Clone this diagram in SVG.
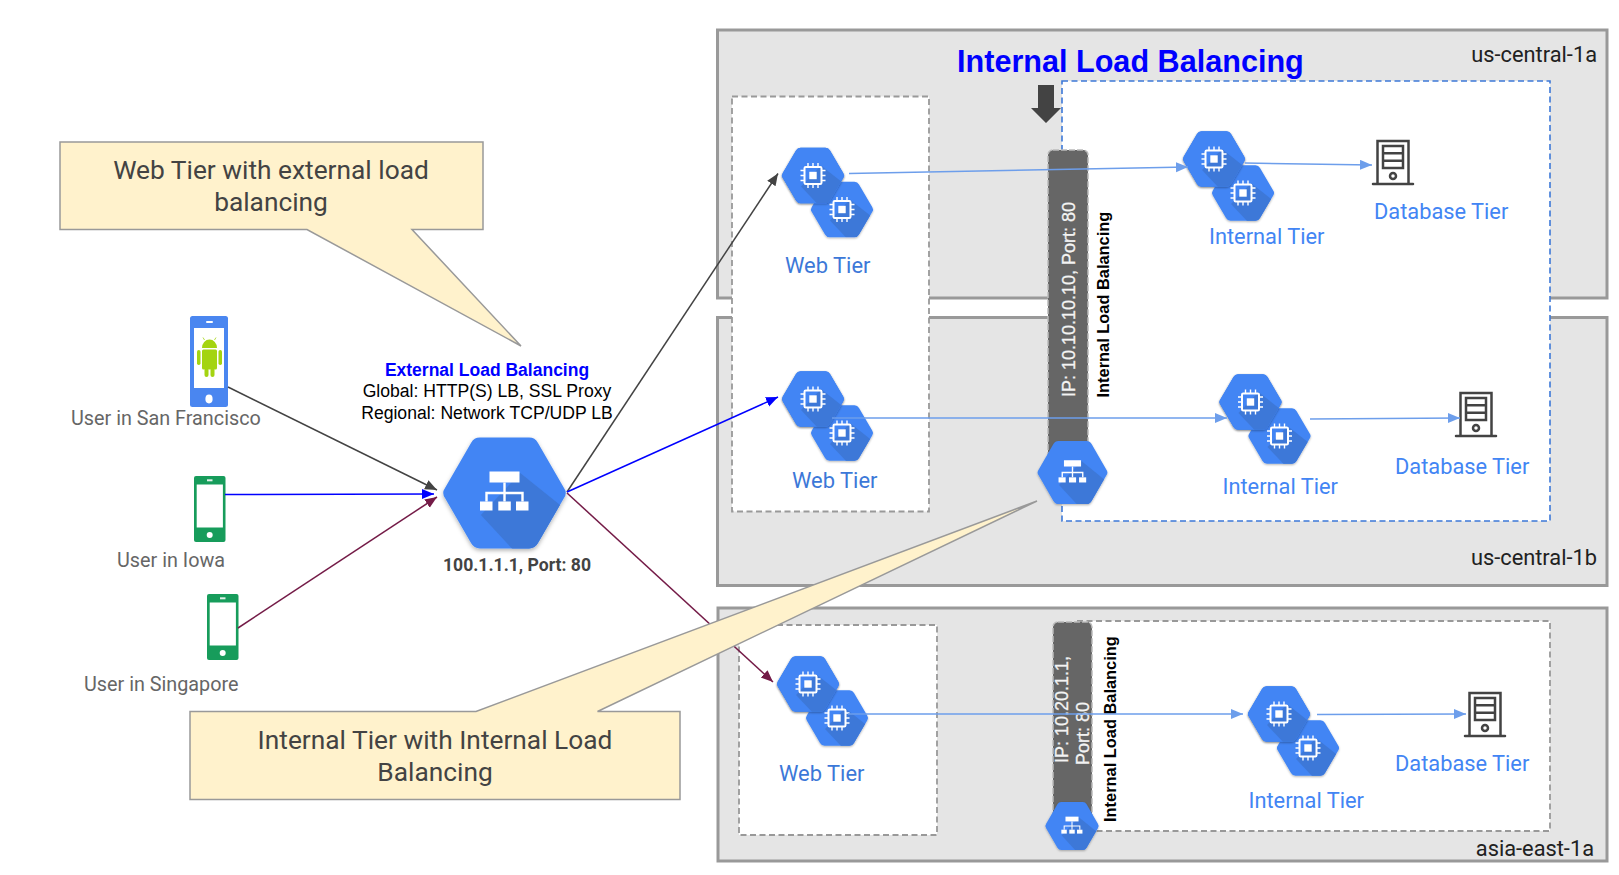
<svg xmlns="http://www.w3.org/2000/svg" width="1619" height="875" viewBox="0 0 1619 875">
<style>
text{font-family:Roboto,"Liberation Sans",sans-serif}
.zone{fill:#e5e5e5;stroke:#999;stroke-width:3}
.box{fill:#fff;stroke:#999;stroke-width:1.8;stroke-dasharray:6 3.5}
.bluebox{fill:#fff;stroke:#3c78d8;stroke-width:1.6;stroke-dasharray:6 3.5}
.bar{fill:#666;stroke:#bbb;stroke-width:1.5;stroke-dasharray:6 2}
.web{fill:#3c78d8;font-size:21.9px}
.tier{fill:#4285f4;font-size:21.8px}
.user{fill:#666;font-size:19.8px}
.region{fill:#212121;font-size:21.8px}
.call{fill:#fff2cc;stroke:#999;stroke-width:1.5;stroke-linejoin:miter}
.calltext{fill:#434343;font-size:26.3px;text-anchor:middle}
.ln{fill:none;stroke-width:1.5}
.dk{stroke:#434343}.bl{stroke:#0000ff}.pu{stroke:#741b47}.lb{stroke:#6d9eeb}
.wh{fill:#fff}
.lib{font-family:"Liberation Sans",Arial,sans-serif}
.bartext{fill:#f3f3f3;font-size:18px;stroke:#f3f3f3;stroke-width:.3}
.side{fill:#000;font-size:16.4px;font-weight:700}
</style>
<defs>
<filter id="sh" x="-20%" y="-20%" width="140%" height="140%"><feDropShadow dx="0" dy="1" stdDeviation="1" flood-color="#000" flood-opacity=".3"/></filter>
<path id="hexp" d="M-30.200-2.500L-17-25Q-15.500-27.700-12.500-27.700L12.500-27.700Q15.500-27.700 17-25L30.200-2.500Q32 0 30.200 2.500L17 25Q15.500 27.700 12.500 27.700L-12.500 27.700Q-15.500 27.700-17 25L-30.200 2.500Q-32 0-30.200-2.500Z"/>
<clipPath id="hc"><use href="#hexp"/></clipPath>
<g id="chip">
<rect x="-8.500" y="-8.500" width="17" height="17" rx="1.200" fill="none" stroke="#fff" stroke-width="2"/>
<rect x="-3.700" y="-3.700" width="7.400" height="7.400" fill="#fff"/>
<path d="M-5-12.500V-9M0-12.500V-9M5-12.500V-9M-5 9V12.500M0 9V12.500M5 9V12.500M-12.500-5H-9M-12.500 0H-9M-12.500 5H-9M9-5H12.500M9 0H12.500M9 5H12.500" stroke="#fff" stroke-width="1.400" fill="none"/>
</g>
<g id="hexbase" filter="url(#sh)">
<use href="#hexp" fill="#4285f4"/>
<polygon clip-path="url(#hc)" points="8,-10 32,9 32,28 4,28 -12,11" fill="#3e78d8"/>
</g>
<g id="compute"><use href="#hexbase"/><use href="#chip"/></g>
<g id="pair"><use href="#compute"/><use href="#compute" x="29" y="34"/><use href="#compute"/></g>
<g id="lbhex">
<use href="#hexbase" transform="scale(1.97 2)"/>
<rect class="wh" x="-15" y="-21.500" width="30" height="11"/>
<rect class="wh" x="-24.500" y="8.500" width="12.500" height="9"/><rect class="wh" x="-6.200" y="8.500" width="12.500" height="9"/><rect class="wh" x="11.500" y="8.500" width="12.500" height="9"/>
<path d="M0-10.500V8.500M-18 8.500V0H18V8.500" fill="none" stroke="#fff" stroke-width="2.400"/>
</g>
<g id="db" fill="none" stroke="#434343">
<path d="M-15.500 44V1H15.500V44" stroke-width="2.500"/>
<path d="M-20 44H20" stroke-width="2.500" stroke-linecap="round"/>
<rect x="-10" y="6" width="20" height="22" stroke-width="2.500"/>
<path d="M-10 13.300H10M-10 20.700H10" stroke-width="2.500"/>
<circle cx="0" cy="36" r="3" stroke-width="2.500"/>
</g>
<g id="greenphone">
<rect x="0" y="0" width="31.500" height="66" rx="2" fill="#179c5b"/>
<rect x="2.700" y="8.500" width="26.200" height="43" fill="#fff"/>
<rect x="13" y="3.300" width="5.500" height="2" fill="#e0f0e8"/>
<circle cx="15.700" cy="59" r="3" fill="#fff"/>
</g>
<marker id="mdk" markerUnits="userSpaceOnUse" markerWidth="13" markerHeight="11" refX="12" refY="5" orient="auto"><path d="M0 0L12 5L0 10Z" fill="#434343"/></marker>
<marker id="mbl" markerUnits="userSpaceOnUse" markerWidth="13" markerHeight="11" refX="12" refY="5" orient="auto"><path d="M0 0L12 5L0 10Z" fill="#0000ff"/></marker>
<marker id="mpu" markerUnits="userSpaceOnUse" markerWidth="13" markerHeight="11" refX="12" refY="5" orient="auto"><path d="M0 0L12 5L0 10Z" fill="#741b47"/></marker>
<marker id="mlb" markerUnits="userSpaceOnUse" markerWidth="13" markerHeight="11" refX="12" refY="5" orient="auto"><path d="M0 0L12 5L0 10Z" fill="#6d9eeb"/></marker>
</defs>
<rect width="1619" height="875" fill="#fff"/>
<g id="zones">
<rect class="zone" x="717.500" y="30" width="889.500" height="268"/>
<rect class="zone" x="717.500" y="317.500" width="889.500" height="268"/>
<rect class="zone" x="718" y="608" width="889" height="253"/>
<text class="region" x="1597" y="62" text-anchor="end">us-central-1a</text>
<text class="region" x="1597" y="565" text-anchor="end">us-central-1b</text>
<text class="region" x="1594" y="856" text-anchor="end">asia-east-1a</text>
</g>
<g id="tier-boxes">
<rect class="bluebox" x="1062" y="81" width="488" height="440"/>
<rect class="box" x="732" y="96.500" width="197" height="415"/>
<rect class="box" x="739" y="625" width="198" height="210"/>
<rect class="box" x="1077" y="621" width="473" height="210"/>
</g>
<g id="ilb-title">
<text class="lib" x="957" y="72" font-size="30.600" font-weight="700" fill="#0000ff">Internal Load Balancing</text>
<polygon points="1038,85 1054,85 1054,108 1061,108 1046,123 1031,108 1038,108" fill="#434343"/>
</g>
<g id="ilb-bar-a">
<rect class="bar" x="1048" y="150" width="40" height="320" rx="5"/>
<text class="lib bartext" transform="translate(1074.500 397) rotate(-90)">IP: 10.10.10.10, Port: 80</text>
<text class="lib side" transform="translate(1109 397.500) rotate(-90)">Internal Load Balancing</text>
</g>
<g id="ilb-bar-b">
<rect class="bar" x="1053" y="622" width="39" height="205" rx="5"/>
<text class="lib bartext" transform="translate(1068 763) rotate(-90)">IP: 10.20.1.1,</text>
<text class="lib bartext" transform="translate(1089 765) rotate(-90)">Port: 80</text>
<text class="lib side" transform="translate(1115.500 822) rotate(-90)">Internal Load Balancing</text>
</g>
<g id="web-a"><use href="#pair" x="813" y="175.500"/><text class="web" x="785" y="273">Web Tier</text></g>
<g id="web-b"><use href="#pair" x="813" y="399"/><text class="web" x="792" y="488">Web Tier</text></g>
<g id="web-c"><use href="#pair" x="808" y="684"/><text class="web" x="779" y="781">Web Tier</text></g>
<g id="internal-a"><use href="#pair" x="1214" y="159"/><text class="tier" x="1209" y="244">Internal Tier</text></g>
<g id="internal-b"><use href="#pair" x="1250.500" y="402"/><text class="tier" x="1222.500" y="494">Internal Tier</text></g>
<g id="internal-c"><use href="#pair" x="1279" y="714"/><text class="tier" x="1248.500" y="808">Internal Tier</text></g>
<g id="db-a"><use href="#db" x="1393" y="140"/><text class="tier" x="1374" y="219">Database Tier</text></g>
<g id="db-b"><use href="#db" x="1476" y="392"/><text class="tier" x="1395" y="474">Database Tier</text></g>
<g id="db-c"><use href="#db" x="1485" y="692"/><text class="tier" x="1395" y="771">Database Tier</text></g>
<g id="ilb-a"><use href="#lbhex" transform="translate(1072.500 472.500) scale(.57)"/></g>
<g id="ilb-b"><use href="#lbhex" transform="translate(1072 826) scale(.435)"/></g>
<g id="elb">
<use href="#lbhex" x="504.500" y="493"/>
<text x="517" y="571" font-size="17.600" font-weight="700" fill="#434343" text-anchor="middle">100.1.1.1, Port: 80</text>
<text class="lib" x="487" y="376" font-size="17.500" font-weight="700" fill="#0000ff" text-anchor="middle">External Load Balancing</text>
<text class="lib" x="487" y="397" font-size="17.600" fill="#000" text-anchor="middle">Global: HTTP(S) LB, SSL Proxy</text>
<text class="lib" x="487" y="419" font-size="17.600" fill="#000" text-anchor="middle">Regional: Network TCP/UDP LB</text>
</g>
<g id="user-sf">
<rect x="190" y="316" width="38" height="91" rx="2.500" fill="#4a86f0"/>
<rect x="194" y="328" width="30" height="60" fill="#fff"/>
<rect x="206" y="321" width="7" height="2" rx="1" fill="#fff"/>
<ellipse cx="209" cy="399" rx="3.600" ry="4.400" fill="#fff"/>
<g fill="#a4d411">
<path d="M202 348a7.500 8.500 0 0 1 15 0Z"/>
<rect x="202" y="349.500" width="15" height="20" rx="1.500"/>
<rect x="197" y="350" width="3.500" height="15" rx="1.700"/><rect x="218.500" y="350" width="3.500" height="15" rx="1.700"/>
<rect x="204.500" y="368" width="4" height="9" rx="2"/><rect x="210.500" y="368" width="4" height="9" rx="2"/>
<path d="M204.500 340L203 337.500M214.500 340L216 337.500" stroke="#a4d411" stroke-width=".8" fill="none"/>
</g>
<text class="user" x="71" y="425">User in San Francisco</text>
</g>
<g id="user-iowa"><use href="#greenphone" x="194" y="476"/><text class="user" x="117" y="567">User in Iowa</text></g>
<g id="user-singapore"><use href="#greenphone" x="207" y="594"/><text class="user" x="84" y="691">User in Singapore</text></g>
<g id="connectors">
<path class="ln dk" marker-end="url(#mdk)" d="M228 387L437 490"/>
<path class="ln bl" marker-end="url(#mbl)" d="M225 494.500L434 494"/>
<path class="ln pu" marker-end="url(#mpu)" d="M238 628L437 497"/>
<path class="ln dk" marker-end="url(#mdk)" d="M567 492L778 173.500"/>
<path class="ln bl" marker-end="url(#mbl)" d="M567 492L778 397"/>
<path class="ln pu" marker-end="url(#mpu)" d="M567 493L773 682"/>
<path class="ln lb" marker-end="url(#mlb)" d="M849 173.500L1188 167"/>
<path class="ln lb" marker-end="url(#mlb)" d="M1245 163L1372 165"/>
<path class="ln lb" marker-end="url(#mlb)" d="M832 418L1227 418"/>
<path class="ln lb" marker-end="url(#mlb)" d="M1310 419L1460 418"/>
<path class="ln lb" marker-end="url(#mlb)" d="M848 714L1243 714"/>
<path class="ln lb" marker-end="url(#mlb)" d="M1317 714.500L1466 714"/>
</g>
<g id="callout-web">
<path class="call" d="M60 142H483V229.500H412L521 346L307 229.500H60Z"/>
<text class="calltext" x="271" y="179">Web Tier with external load</text>
<text class="calltext" x="271" y="210.500">balancing</text>
</g>
<g id="callout-internal">
<path class="call" d="M190 711.500H476L1037 501L597.500 711.500H680V799.500H190Z"/>
<text class="calltext" x="435" y="749">Internal Tier with Internal Load</text>
<text class="calltext" x="435" y="781">Balancing</text>
</g>
</svg>
